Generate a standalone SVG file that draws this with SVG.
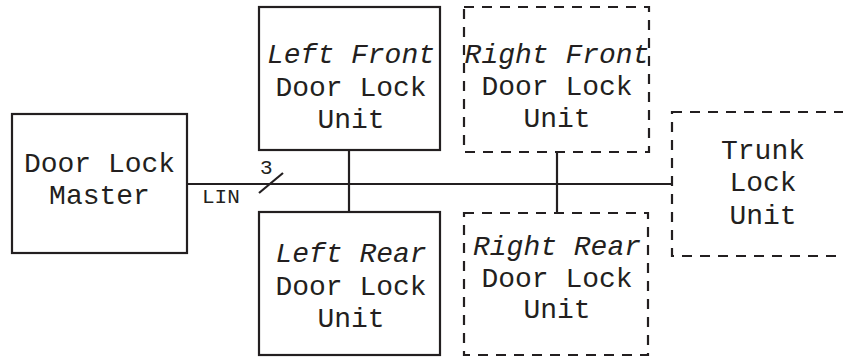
<svg xmlns="http://www.w3.org/2000/svg" width="843" height="358" viewBox="0 0 843 358">
<style>
.box{fill:#fff;stroke:#231f20;stroke-width:2.2}
.dash{fill:#fff;stroke:#231f20;stroke-width:2.2;stroke-dasharray:10 8}
.t{font-family:"Liberation Mono","Courier New",monospace;font-size:28px;fill:#231f20;text-anchor:middle}
.i{font-style:italic}
.s{font-family:"Liberation Mono","Courier New",monospace;font-size:21px;fill:#231f20}
.ln{stroke:#231f20;stroke-width:2.2;fill:none}
</style>
<rect width="843" height="358" fill="#fff"/>
<g id="connectors">
<line class="ln" x1="187" y1="184" x2="672" y2="184"/>
<line class="ln" x1="349" y1="151" x2="349" y2="212"/>
<line class="ln" x1="557" y1="152" x2="557" y2="213"/>
<line class="ln" x1="259" y1="193" x2="283" y2="173"/>
<text class="s" x="260" y="174">3</text>
<text class="s" x="202" y="203">LIN</text>
</g>
<g id="master">
<rect class="box" x="12" y="114" width="175" height="139"/>
<text class="t" x="99.5" y="172">Door Lock</text>
<text class="t" x="99.5" y="204">Master</text>
</g>
<g id="left-front">
<rect class="box" x="259" y="7" width="181" height="143"/>
<text class="t i" x="351" y="63">Left Front</text>
<text class="t" x="351" y="96">Door Lock</text>
<text class="t" x="351" y="128">Unit</text>
</g>
<g id="left-rear">
<rect class="box" x="259" y="212" width="181" height="143"/>
<text class="t i" x="351" y="262">Left Rear</text>
<text class="t" x="351" y="295">Door Lock</text>
<text class="t" x="351" y="327">Unit</text>
</g>
<g id="right-front">
<rect class="dash" x="464" y="7" width="185" height="145"/>
<text class="t i" x="557" y="63">Right Front</text>
<text class="t" x="557" y="95">Door Lock</text>
<text class="t" x="557" y="127">Unit</text>
</g>
<g id="right-rear">
<rect class="dash" x="464" y="213" width="184" height="142"/>
<text class="t i" x="557" y="255">Right Rear</text>
<text class="t" x="557" y="287">Door Lock</text>
<text class="t" x="557" y="318">Unit</text>
</g>
<g id="trunk">
<rect class="dash" x="672" y="112" width="190" height="144"/>
<text class="t" x="763" y="159">Trunk</text>
<text class="t" x="763" y="191">Lock</text>
<text class="t" x="763" y="224">Unit</text>
</g>
</svg>
